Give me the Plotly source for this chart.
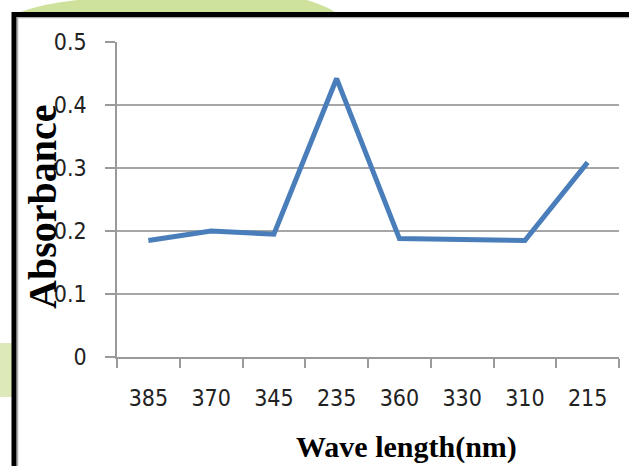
import plotly.graph_objects as go

wavelengths = ["385", "370", "345", "235", "360", "330", "310", "215"]
absorbance = [0.185, 0.200, 0.195, 0.442, 0.188, 0.187, 0.185, 0.309]
y_ticks = [0, 0.1, 0.2, 0.3, 0.4, 0.5]
y_tick_labels = ["0", "0.1", "0.2", "0.3", "0.4", "0.5"]
x_title = "Wave length(nm)"
y_title = "Absorbance"

L, R, T, B = 117, 619, 42, 357
W, H = 629, 466

def px(x):
    return (x - L) / (R - L)

def py(y):
    return (B - y) / (B - T)

fig = go.Figure()
fig.add_trace(go.Scatter(
    x=wavelengths, y=absorbance, mode="lines",
    line=dict(color="#4a7ebb", width=5),
    showlegend=False,
))

shapes = []
shapes.append(dict(type="path", xref="paper", yref="paper", layer="below",
    path=f"M {px(20)} {py(12)} Q {px(60)} {py(-2)} {px(120)} {py(-2)} L {px(300)} {py(-2)} Q {px(325)} {py(5)} {px(335)} {py(12)} Z",
    fillcolor="#cfe29c", line=dict(width=0)))
shapes.append(dict(type="rect", xref="paper", yref="paper", layer="below",
    x0=px(-2), x1=px(12), y0=py(343), y1=py(397),
    fillcolor="#dde9b8", line=dict(width=0)))
shapes.append(dict(type="rect", xref="paper", yref="paper", layer="below",
    x0=px(17.5), x1=px(660), y0=py(17.5), y1=py(500),
    fillcolor="rgba(0,0,0,0)", line=dict(color="#b0b0b0", width=1.5)))
shapes.append(dict(type="rect", xref="paper", yref="paper", layer="below",
    x0=px(14), x1=px(660), y0=py(14.5), y1=py(500),
    fillcolor="rgba(0,0,0,0)", line=dict(color="#000000", width=5)))

tick_font = dict(family="Liberation Sans Narrow, DejaVu Sans Condensed, sans-serif", size=23, color="#222")
title_family = "Liberation Serif, Times New Roman, serif"

annotations = [
    dict(text=y_title, xref="paper", yref="paper", x=px(42), y=py(207),
         xanchor="center", yanchor="middle", textangle=-90, showarrow=False,
         font=dict(family=title_family, size=40, color="black", weight="bold")),
    dict(text=x_title, xref="paper", yref="paper", x=px(406), y=py(447),
         xanchor="center", yanchor="middle", showarrow=False,
         font=dict(family=title_family, size=30, color="black", weight="bold")),
]

fig.update_layout(
    width=W, height=H,
    margin=dict(l=L, r=W - R, t=T, b=H - B, autoexpand=False),
    paper_bgcolor="white", plot_bgcolor="white",
    shapes=shapes,
    annotations=annotations,
    xaxis=dict(
        type="category", range=[-0.5, 7.5], automargin=False,
        tickson="boundaries", ticks="outside", ticklen=9, tickcolor="#9a9a9a", tickwidth=1.5,
        showline=True, linecolor="#9a9a9a", linewidth=1.5,
        showgrid=False,
        tickfont=tick_font,
        ticklabelstandoff=20,
    ),
    yaxis=dict(
        range=[0, 0.5], automargin=False,
        tickmode="array", tickvals=y_ticks, ticktext=y_tick_labels,
        ticks="outside", ticklen=10, tickcolor="#9a9a9a", tickwidth=1.5,
        showline=True, linecolor="#9a9a9a", linewidth=1.5,
        showgrid=True, gridcolor="#a6a6a6", gridwidth=1.5,
        zeroline=False,
        tickfont=tick_font,
        ticklabelstandoff=14,
    ),
)

fig.write_html("out.html")
